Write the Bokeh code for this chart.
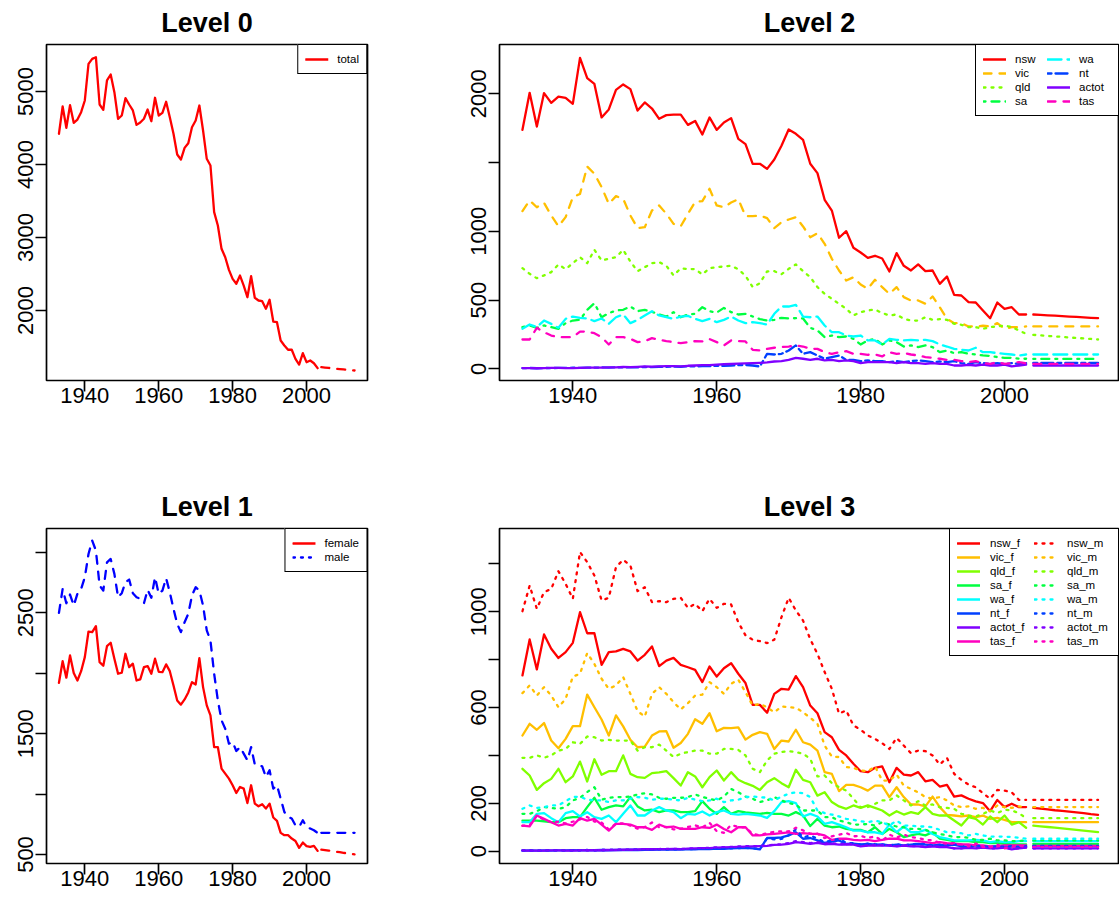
import numpy as np
from bokeh.plotting import figure
from bokeh.models import Range1d, FixedTicker, Legend, LegendItem, CustomJSTickFormatter, Title
from bokeh.layouts import column, row
from bokeh.embed import file_html
from bokeh.resources import INLINE

years = list(range(1933, 2004))
fc_years = list(range(2004, 2014))

# ---------------- Level 0 ----------------
total = [4421, 4795, 4503, 4812, 4571, 4616, 4717, 4877, 5379, 5447,
         5470, 4822, 4749, 5151, 5233, 4991, 4626, 4671, 4909, 4822,
         4740, 4543, 4575, 4626, 4753, 4593, 4914, 4671, 4708, 4859,
         4648, 4421, 4137, 4068, 4228, 4292, 4511, 4603, 4808, 4466,
         4078, 3986, 3347, 3164, 2845, 2730, 2557, 2434, 2366, 2479,
         2342, 2182, 2470, 2174, 2137, 2127, 2023, 2147, 1849, 1840,
         1589, 1521, 1462, 1462, 1338, 1260, 1415, 1292, 1315, 1278,
         1210]
total_fc = [1223, 1218, 1213, 1208, 1203, 1198, 1193, 1188, 1183, 1178]

# ---------------- Level 1 ----------------
female = [1921, 2100, 1963, 2147, 2001, 1940, 2017, 2133, 2345, 2340,
          2389, 2092, 2062, 2224, 2252, 2120, 1996, 2004, 2161, 2050,
          2079, 1940, 1949, 2050, 2059, 1996, 2120, 2012, 2009, 2073,
          2017, 1899, 1775, 1740, 1783, 1841, 1926, 1907, 2125, 1885,
          1734, 1651, 1389, 1389, 1211, 1169, 1128, 1073, 1009, 1059,
          1045, 926, 1073, 921, 899, 916, 880, 921, 806, 778,
          679, 660, 660, 632, 612, 555, 599, 569, 563, 571,
          530]
female_fc = [541, 537, 532, 528, 523, 519, 514, 510, 505, 501]
male = [2500, 2698, 2579, 2651, 2560, 2657, 2698, 2794, 2987, 3097,
        3015, 2726, 2684, 2918, 2946, 2822, 2629, 2662, 2753, 2775,
        2662, 2629, 2616, 2579, 2690, 2624, 2794, 2657, 2684, 2786,
        2670, 2533, 2409, 2340, 2422, 2492, 2643, 2712, 2684, 2560,
        2354, 2271, 1996, 1775, 1610, 1541, 1417, 1431, 1356, 1389,
        1335, 1279, 1389, 1246, 1238, 1230, 1141, 1197, 1045, 1073,
        963, 852, 811, 798, 742, 728, 783, 728, 715, 701,
        679]
male_fc = [679, 679, 679, 679, 679, 679, 679, 679, 679, 679]

# ---------------- Level 2 ----------------
states = ["nsw", "vic", "qld", "sa", "wa", "nt", "actot", "tas"]
nsw = [1738, 2007, 1762, 2005, 1934, 1980, 1971, 1927, 2261, 2114,
       2072, 1828, 1886, 2029, 2068, 2034, 1878, 1937, 1893, 1818,
       1845, 1849, 1849, 1774, 1803, 1704, 1828, 1738, 1791, 1823,
       1672, 1634, 1491, 1491, 1454, 1522, 1622, 1740, 1709, 1665,
       1491, 1423, 1229, 1151, 953, 1001, 880, 846, 807, 822,
       802, 708, 841, 749, 715, 759, 710, 715, 618, 671,
       538, 533, 485, 482, 424, 368, 482, 436, 448, 395,
       395]
nsw_fc = [395, 392, 389, 386, 383, 380, 377, 374, 371, 368]
vic = [1147, 1224, 1175, 1207, 1115, 1037, 1103, 1248, 1272, 1471,
       1418, 1321, 1200, 1256, 1236, 1115, 1023, 1030, 1151, 1188,
       1127, 1054, 1037, 1127, 1214, 1219, 1309, 1188, 1175, 1209,
       1234, 1110, 1110, 1115, 1096, 1023, 1066, 1086, 1103, 1035,
       957, 986, 909, 800, 715, 642, 666, 613, 582, 647,
       594, 545, 594, 521, 497, 497, 473, 526, 448, 363,
       332, 332, 308, 308, 313, 308, 332, 291, 303, 303,
       308]
vic_fc = [308, 308, 308, 308, 308, 308, 308, 308, 308, 308]
qld = [732, 691, 659, 679, 703, 759, 725, 768, 812, 768,
       865, 788, 800, 812, 865, 780, 710, 739, 768, 776,
       749, 679, 730, 725, 725, 686, 732, 739, 744, 749,
       725, 676, 594, 623, 708, 710, 688, 727, 759, 710,
       667, 594, 545, 509, 473, 436, 388, 412, 424, 431,
       405, 388, 395, 363, 351, 351, 375, 356, 361, 356,
       327, 320, 303, 303, 291, 303, 308, 315, 303, 279,
       254]
qld_fc = [247, 243, 239, 236, 232, 228, 224, 221, 217, 213]
sa = [303, 315, 298, 315, 303, 291, 332, 351, 356, 429,
      477, 375, 405, 424, 429, 453, 419, 429, 414, 395,
      380, 412, 375, 395, 400, 448, 419, 409, 443, 412,
      395, 400, 380, 361, 351, 356, 371, 366, 368, 366,
      298, 279, 230, 242, 230, 235, 218, 177, 206, 218,
      177, 206, 194, 162, 170, 158, 170, 158, 121, 133,
      114, 121, 109, 104, 97, 94, 85, 80, 80, 73,
      73]
sa_fc = [72, 72, 72, 72, 72, 72, 72, 72, 72, 72]
wa = [291, 322, 303, 351, 327, 298, 363, 380, 371, 366,
      347, 366, 327, 375, 395, 332, 356, 388, 419, 388,
      375, 363, 380, 385, 363, 347, 363, 339, 356, 380,
      351, 332, 339, 332, 322, 400, 453, 453, 465, 380,
      375, 380, 315, 266, 266, 242, 235, 242, 206, 206,
      177, 218, 211, 206, 211, 206, 211, 201, 177, 162,
      145, 138, 133, 153, 121, 121, 114, 109, 104, 97,
      104]
wa_fc = [104, 104, 104, 104, 104, 104, 104, 104, 104, 104]
nt = [5, 6, 4, 6, 5, 7, 6, 8, 7, 9,
      8, 10, 9, 11, 10, 12, 11, 13, 12, 15,
      14, 16, 15, 18, 17, 20, 19, 22, 21, 24,
      26, 28, 24, 17, 109, 104, 109, 133, 170, 109,
      121, 97, 73, 85, 97, 65, 65, 56, 61, 56,
      56, 48, 56, 48, 56, 61, 56, 48, 53, 48,
      56, 41, 36, 48, 41, 36, 41, 36, 41, 36,
      41]
nt_fc = [43, 43, 43, 43, 43, 43, 43, 43, 43, 43]
actot = [5, 5, 4, 5, 6, 6, 5, 5, 7, 8,
         8, 9, 10, 11, 13, 12, 14, 17, 16, 18,
         19, 20, 18, 22, 24, 26, 27, 31, 33, 35,
         38, 40, 41, 43, 46, 53, 56, 65, 80, 73,
         65, 73, 61, 65, 56, 61, 56, 41, 48, 48,
         48, 48, 41, 48, 41, 41, 36, 41, 36, 36,
         24, 24, 29, 24, 31, 24, 24, 31, 17, 24,
         31]
actot_fc = [24, 24, 24, 24, 24, 24, 24, 24, 24, 24]
tas = [213, 213, 298, 266, 242, 230, 230, 230, 271, 271,
       259, 230, 177, 230, 230, 218, 194, 201, 223, 211,
       201, 194, 187, 194, 201, 199, 216, 194, 170, 206,
       201, 199, 138, 133, 145, 153, 158, 162, 170, 162,
       145, 145, 121, 109, 121, 128, 109, 109, 102, 104,
       90, 121, 109, 114, 104, 97, 85, 80, 73, 65,
       65, 56, 48, 56, 41, 36, 48, 36, 41, 48,
       41]
tas_fc = [36, 36, 36, 36, 36, 36, 36, 36, 36, 36]

# ---------------- Level 3 ----------------
nsw_f = [734, 884, 759, 905, 845, 807, 831, 870, 998, 910,
         910, 778, 831, 834, 845, 834, 796, 820, 855, 773,
         796, 807, 778, 768, 757, 706, 771, 729, 764, 785,
         741, 702, 611, 611, 578, 657, 678, 675, 731, 685,
         608, 576, 497, 476, 423, 400, 365, 334, 330, 348,
         354, 288, 348, 320, 316, 330, 292, 298, 270, 277,
         228, 233, 219, 208, 201, 167, 214, 184, 198, 184,
         184]
nsw_f_fc = [181, 178, 175, 171, 168, 165, 162, 159, 155, 152]
vic_f = [483, 532, 507, 535, 462, 430, 469, 522, 522, 654,
         601, 550, 483, 567, 521, 465, 434, 437, 483, 500,
         501, 432, 452, 490, 551, 532, 576, 501, 515, 514,
         517, 466, 486, 497, 490, 427, 462, 458, 507, 455,
         445, 420, 330, 323, 251, 277, 277, 267, 253, 274,
         274, 226, 267, 226, 195, 195, 187, 228, 184, 152,
         149, 145, 149, 142, 149, 135, 139, 131, 121, 121,
         121]
vic_f_fc = [121, 121, 121, 121, 121, 121, 121, 121, 121, 121]
qld_f = [344, 316, 256, 284, 302, 344, 288, 312, 374, 291,
         384, 319, 334, 334, 400, 323, 309, 306, 326, 329,
         334, 305, 274, 330, 312, 267, 309, 337, 295, 330,
         298, 284, 273, 256, 288, 305, 284, 267, 340, 298,
         288, 232, 246, 205, 187, 177, 191, 181, 191, 181,
         170, 149, 167, 153, 163, 156, 184, 156, 149, 149,
         128, 107, 142, 135, 111, 145, 121, 149, 111, 121,
         98]
qld_f_fc = [107, 104, 101, 98, 95, 92, 89, 86, 83, 80]
sa_f = [128, 128, 128, 125, 121, 121, 138, 142, 142, 184,
        223, 173, 184, 191, 187, 226, 187, 170, 173, 163,
        170, 170, 163, 163, 167, 209, 177, 156, 184, 156,
        167, 162, 159, 156, 160, 156, 156, 149, 163, 149,
        105, 135, 107, 100, 103, 93, 89, 89, 79, 100,
        72, 93, 79, 59, 66, 72, 66, 79, 52, 47,
        42, 42, 42, 38, 38, 34, 34, 31, 28, 28,
        28]
sa_f_fc = [30, 30, 30, 30, 30, 30, 30, 30, 30, 30]
wa_f = [121, 121, 156, 159, 138, 121, 159, 167, 145, 163,
        142, 135, 149, 121, 156, 191, 149, 149, 170, 184,
        170, 163, 138, 156, 153, 166, 149, 163, 170, 156,
        153, 156, 153, 149, 139, 167, 205, 209, 201, 145,
        156, 145, 114, 121, 111, 100, 86, 86, 79, 79,
        72, 111, 79, 103, 79, 79, 89, 72, 59, 52,
        45, 45, 45, 47, 45, 38, 42, 38, 38, 42,
        42]
wa_f_fc = [42, 42, 42, 42, 42, 42, 42, 42, 42, 42]
nt_f = [2, 3, 2, 3, 2, 3, 3, 4, 3, 4,
        4, 5, 4, 5, 5, 6, 5, 6, 6, 7,
        7, 8, 7, 9, 8, 10, 9, 11, 10, 12,
        13, 14, 12, 8, 55, 55, 58, 66, 79, 52,
        55, 45, 35, 40, 45, 30, 32, 28, 30, 27,
        28, 24, 27, 24, 27, 30, 27, 24, 26, 24,
        27, 20, 18, 24, 20, 18, 20, 18, 20, 18,
        20]
nt_f_fc = [21, 21, 21, 21, 21, 21, 21, 21, 21, 21]
actot_f = [2, 2, 2, 2, 3, 3, 2, 2, 3, 4,
           4, 4, 5, 5, 6, 6, 7, 8, 8, 9,
           9, 10, 9, 11, 12, 13, 13, 15, 16, 17,
           18, 19, 20, 21, 22, 26, 27, 31, 38, 35,
           31, 35, 29, 31, 27, 29, 27, 20, 23, 23,
           23, 23, 20, 23, 20, 20, 17, 20, 17, 17,
           12, 12, 14, 12, 15, 12, 12, 15, 8, 12,
           15]
actot_f_fc = [12, 12, 12, 12, 12, 12, 12, 12, 12, 12]
tas_f = [107, 104, 149, 135, 121, 107, 114, 107, 138, 128,
         135, 111, 86, 114, 114, 111, 100, 100, 89, 111,
         100, 103, 93, 93, 93, 100, 97, 111, 93, 79,
         100, 100, 66, 66, 70, 72, 75, 79, 72, 75,
         72, 72, 66, 47, 52, 52, 47, 45, 47, 42,
         47, 52, 52, 45, 45, 42, 38, 34, 38, 34,
         31, 28, 28, 24, 24, 20, 20, 24, 24, 24,
         24]
tas_f_fc = [22, 22, 22, 22, 22, 22, 22, 22, 22, 22]

nsw_m = [1002, 1109, 1012, 1082, 1095, 1169, 1116, 1054, 1249, 1207,
         1151, 1047, 1058, 1186, 1217, 1193, 1086, 1102, 1040, 1044,
         1040, 1054, 1058, 1016, 1033, 1002, 1054, 1016, 1033, 1030,
         956, 901, 883, 877, 869, 883, 977, 1058, 1005, 963,
         885, 824, 748, 678, 574, 588, 525, 507, 483, 469,
         451, 427, 473, 441, 409, 420, 418, 400, 362, 390,
         323, 298, 278, 267, 242, 219, 256, 253, 246, 214,
         214]
nsw_m_fc = [214, 214, 214, 214, 214, 214, 214, 214, 214, 214]
vic_m = [660, 692, 650, 685, 650, 601, 636, 729, 741, 827,
         782, 720, 678, 692, 727, 657, 585, 562, 657, 685,
         657, 622, 592, 618, 650, 654, 706, 685, 657, 699,
         716, 664, 608, 615, 601, 580, 604, 601, 599, 580,
         557, 532, 441, 395, 393, 351, 348, 337, 334, 354,
         295, 295, 320, 274, 260, 246, 226, 219, 226, 212,
         191, 184, 187, 177, 181, 167, 191, 184, 181, 187,
         184]
vic_m_fc = [184, 184, 184, 184, 184, 184, 184, 184, 184, 184]
qld_m = [390, 390, 400, 390, 400, 420, 427, 455, 448, 479,
         476, 462, 465, 462, 462, 462, 420, 434, 434, 445,
         420, 393, 407, 414, 420, 420, 407, 407, 427, 427,
         423, 400, 344, 330, 379, 407, 414, 418, 414, 407,
         386, 312, 316, 284, 267, 253, 219, 184, 184, 198,
         212, 212, 233, 212, 191, 209, 191, 195, 184, 181,
         177, 156, 149, 145, 156, 170, 159, 173, 170, 159,
         138]
qld_m_fc = [138, 138, 138, 138, 138, 138, 138, 138, 138, 138]
sa_m = [156, 156, 167, 184, 181, 177, 184, 212, 223, 247,
        267, 215, 223, 226, 226, 228, 237, 242, 237, 223,
        219, 223, 223, 226, 237, 226, 219, 212, 228, 260,
        246, 228, 219, 205, 212, 226, 212, 201, 195, 170,
        170, 170, 142, 142, 128, 121, 111, 111, 114, 107,
        121, 111, 103, 100, 93, 93, 89, 79, 72, 66,
        59, 59, 56, 47, 47, 52, 45, 45, 42, 42,
        45]
sa_m_fc = [45, 45, 45, 45, 45, 45, 45, 45, 45, 45]
wa_m = [177, 191, 181, 184, 191, 191, 209, 226, 228, 215,
        212, 212, 205, 212, 212, 219, 226, 223, 215, 219,
        219, 215, 212, 223, 215, 209, 212, 219, 205, 212,
        215, 226, 228, 226, 223, 212, 228, 240, 246, 242,
        226, 170, 159, 153, 145, 135, 131, 125, 121, 128,
        121, 107, 128, 107, 107, 103, 103, 100, 89, 79,
        79, 75, 66, 72, 66, 61, 61, 61, 59, 56,
        52]
wa_m_fc = [52, 52, 52, 52, 52, 52, 52, 52, 52, 52]
nt_m = [3, 3, 2, 3, 3, 4, 3, 4, 4, 5,
        4, 5, 5, 6, 5, 6, 6, 7, 6, 8,
        7, 8, 8, 9, 9, 10, 10, 11, 11, 12,
        13, 14, 12, 9, 54, 49, 51, 67, 91, 57,
        66, 52, 38, 45, 52, 35, 33, 28, 31, 29,
        28, 24, 29, 24, 29, 31, 29, 24, 27, 24,
        29, 21, 18, 24, 21, 18, 21, 18, 21, 18,
        21]
nt_m_fc = [22, 22, 22, 22, 22, 22, 22, 22, 22, 22]
actot_m = [3, 3, 2, 3, 3, 3, 3, 3, 4, 4,
           4, 5, 5, 6, 7, 6, 7, 9, 8, 9,
           10, 10, 9, 11, 12, 13, 14, 16, 17, 18,
           20, 21, 21, 22, 24, 27, 29, 34, 42, 38,
           34, 38, 32, 34, 29, 32, 29, 21, 25, 25,
           25, 25, 21, 25, 21, 21, 19, 21, 19, 19,
           12, 12, 15, 12, 16, 12, 12, 16, 9, 12,
           16]
actot_m_fc = [12, 12, 12, 12, 12, 12, 12, 12, 12, 12]
tas_m = [106, 109, 149, 131, 121, 123, 116, 123, 133, 143,
         124, 119, 91, 116, 116, 107, 94, 101, 120, 100,
         101, 91, 94, 101, 108, 99, 119, 83, 77, 110,
         101, 99, 72, 67, 75, 81, 83, 83, 98, 87,
         73, 73, 55, 62, 69, 76, 62, 64, 55, 62,
         43, 69, 57, 69, 59, 55, 47, 46, 35, 31,
         34, 28, 20, 32, 17, 16, 28, 12, 17, 24,
         17]
tas_m_fc = [18, 18, 18, 18, 18, 18, 18, 18, 18, 18]

x_ticks = [1940, 1960, 1980, 2000]

FONT = "Liberation Sans"
COLS = ["#FF0000", "#FFBF00", "#80FF00", "#00FF40", "#00FFFF", "#0040FF", "#8000FF", "#FF00BF"]
DASH2 = ["solid", "8 8", "2 6", "2 6 8 6", "14 6", "4 4 12 4", "solid", "8 8"]
LW = 2.3


def make_fig(title, xr, yr, fw, fh, bl, br, bt, bb, yticks, ylabels):
    p = figure(frame_width=fw, frame_height=fh,
               x_range=Range1d(*xr), y_range=Range1d(*yr),
               min_border_left=bl, min_border_right=br,
               min_border_top=bt, min_border_bottom=bb,
               output_backend="svg", toolbar_location=None, title=None)
    # small spacer panel between the frame and the title, then the title itself
    p.add_layout(Title(text=" ", text_font_size="4px", standoff=0), "above")
    p.add_layout(Title(text=title, align="center", vertical_align="bottom", standoff=0,
                       text_font=FONT, text_font_size="27px", text_font_style="bold",
                       text_color="black"), "above")
    p.xgrid.visible = False
    p.ygrid.visible = False
    p.outline_line_color = "black"
    p.outline_line_width = 1.7
    p.outline_line_alpha = 1
    p.background_fill_color = "white"
    p.border_fill_color = "white"
    for ax in (p.xaxis[0], p.yaxis[0]):
        ax.axis_line_color = None
        ax.major_tick_line_color = "black"
        ax.major_tick_line_width = 1.7
        ax.major_tick_out = 11
        ax.major_tick_in = 0
        ax.minor_tick_line_color = None
        ax.major_label_text_font = FONT
        ax.major_label_text_font_size = "22px"
        ax.major_label_text_color = "black"
    p.xaxis.major_label_standoff = -4
    p.yaxis.major_label_standoff = 2
    p.xaxis.ticker = FixedTicker(ticks=x_ticks)
    p.yaxis.ticker = FixedTicker(ticks=yticks)
    p.yaxis.formatter = CustomJSTickFormatter(
        args=dict(show=ylabels),
        code="return show.indexOf(tick) >= 0 ? tick.toFixed(0) : '';")
    p.yaxis.major_label_orientation = "vertical"
    return p


def style_legend(items, ncols, label_width, pad=7, standoff=9):
    lg = Legend(items=items, location="top_right", ncols=ncols,
                margin=0, padding=pad, spacing=0,
                glyph_width=23, glyph_height=14, label_height=14,
                label_width=label_width, label_standoff=standoff,
                label_text_font=FONT, label_text_font_size="11.5px",
                label_text_color="black",
                border_line_color="black", border_line_width=1.7, border_line_alpha=1,
                background_fill_color="white", background_fill_alpha=1)
    return lg


XR_L = (1929.63, 2016.5)
XR_R = (1929.81, 2015.98)

# ---- Level 0 ----
p0 = make_fig("Level 0", XR_L, (1041.1, 5643.8), 321, 336, 46, 60, 44, 60,
              [2000, 3000, 4000, 5000], [2000, 3000, 4000, 5000])
r_tot = p0.line(years, total, line_color=COLS[0], line_width=LW, line_cap="round", line_join="round")
p0.line(fc_years, total_fc, line_color=COLS[0], line_width=LW, line_dash="8 8", line_cap="round")
p0.add_layout(style_legend([LegendItem(label="total", renderers=[r_tot])], 1, 20))

# ---- Level 2 ----
p2 = make_fig("Level 2", XR_R, (-85.1, 2358.5), 620, 336, 72, 0, 44, 60,
              [0, 500, 1000, 1500, 2000], [0, 500, 1000, 2000])
lvl2 = [nsw, vic, qld, sa, wa, nt, actot, tas]
lvl2_fc = [nsw_fc, vic_fc, qld_fc, sa_fc, wa_fc, nt_fc, actot_fc, tas_fc]
items2 = []
for i, name in enumerate(states):
    r = p2.line(years, lvl2[i], line_color=COLS[i], line_width=LW, line_dash=DASH2[i],
                line_cap="round", line_join="round")
    p2.line(fc_years, lvl2_fc[i], line_color=COLS[i], line_width=LW, line_dash=DASH2[i],
            line_cap="round", line_join="round")
    items2.append(LegendItem(label=name, renderers=[r]))
p2.add_layout(style_legend(items2, 2, 32))

# ---- Level 1 ----
p1 = make_fig("Level 1", XR_L, (425.5, 3197.6), 321, 335, 46, 60, 88, 45,
              [500, 1000, 1500, 2000, 2500, 3000], [500, 1500, 2500])
r_f = p1.line(years, female, line_color="#FF0000", line_width=LW, line_cap="round", line_join="round")
p1.line(fc_years, female_fc, line_color="#FF0000", line_width=LW, line_dash="8 8", line_cap="round")
p1.line(years, male, line_color="#0000FF", line_width=LW, line_dash="8 8", line_cap="round", line_join="round")
p1.line(fc_years, male_fc, line_color="#0000FF", line_width=LW, line_dash="8 8", line_cap="round")
# legend key for "male" (drawn dotted in the legend, as in the original)
r_m_leg = p1.line(np.array([np.nan]), np.array([np.nan]), line_color="#0000FF", line_width=LW,
                  line_dash="2 6", line_cap="round")
p1.add_layout(style_legend([LegendItem(label="female", renderers=[r_f]),
                            LegendItem(label="male", renderers=[r_m_leg])], 1, 20))

# ---- Level 3 ----
p3 = make_fig("Level 3", XR_R, (-51.4, 1347.4), 620, 335, 72, 0, 88, 45,
              [0, 200, 400, 600, 800, 1000, 1200], [0, 200, 600, 1000])
lvl3_f = [nsw_f, vic_f, qld_f, sa_f, wa_f, nt_f, actot_f, tas_f]
lvl3_f_fc = [nsw_f_fc, vic_f_fc, qld_f_fc, sa_f_fc, wa_f_fc, nt_f_fc, actot_f_fc, tas_f_fc]
lvl3_m = [nsw_m, vic_m, qld_m, sa_m, wa_m, nt_m, actot_m, tas_m]
lvl3_m_fc = [nsw_m_fc, vic_m_fc, qld_m_fc, sa_m_fc, wa_m_fc, nt_m_fc, actot_m_fc, tas_m_fc]
items3 = []
for i, name in enumerate(states):
    r = p3.line(years, lvl3_f[i], line_color=COLS[i], line_width=LW, line_cap="round", line_join="round")
    p3.line(fc_years, lvl3_f_fc[i], line_color=COLS[i], line_width=LW, line_cap="round")
    items3.append(LegendItem(label=name + "_f", renderers=[r]))
for i, name in enumerate(states):
    r = p3.line(years, lvl3_m[i], line_color=COLS[i], line_width=LW, line_dash="2 6",
                line_cap="round", line_join="round")
    p3.line(fc_years, lvl3_m_fc[i], line_color=COLS[i], line_width=LW, line_dash="2 6", line_cap="round")
    items3.append(LegendItem(label=name + "_m", renderers=[r]))
p3.add_layout(style_legend(items3, 2, 44, standoff=10))

layout = column(row(p0, p2), row(p1, p3))
open("out.html", "w").write(file_html(layout, INLINE))
